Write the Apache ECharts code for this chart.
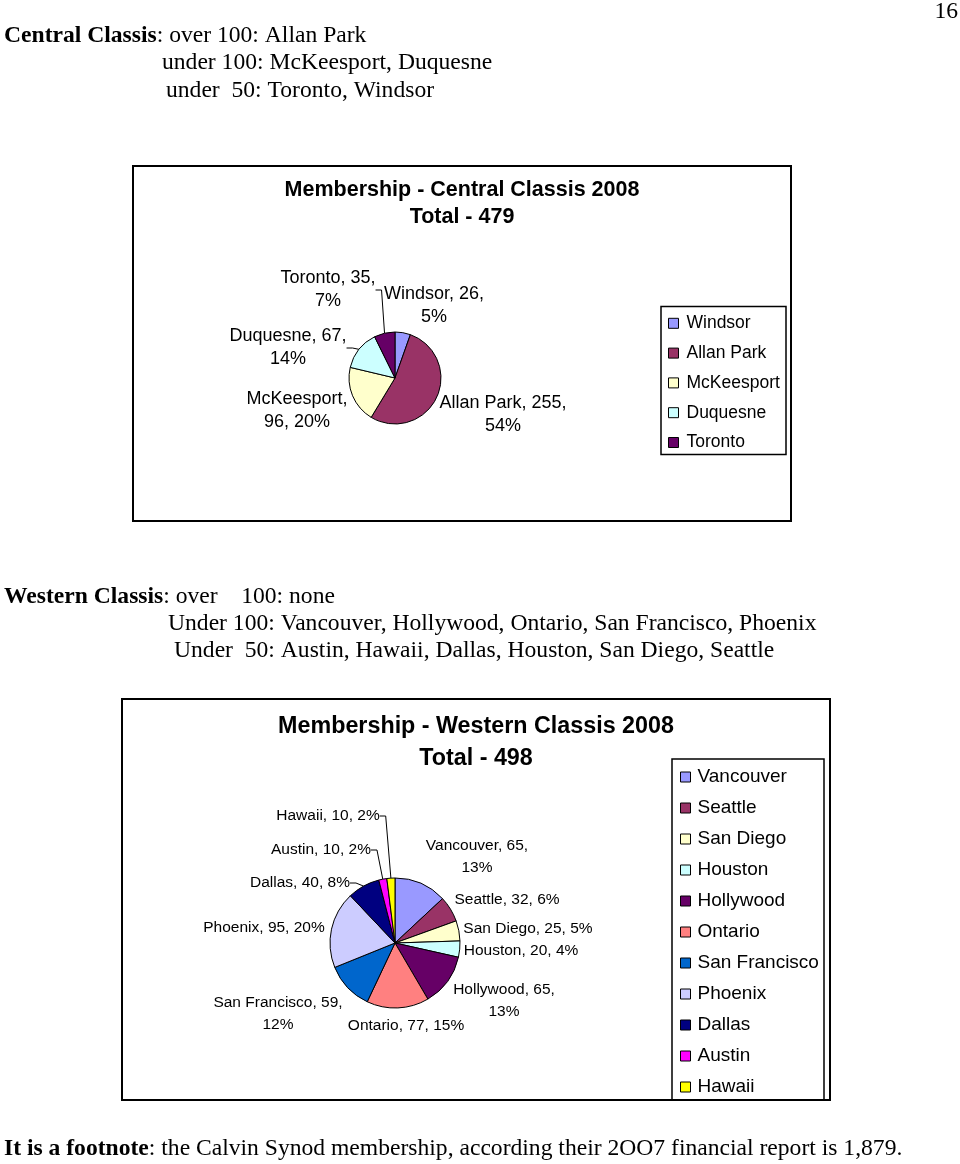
<!DOCTYPE html>
<html>
<head>
<meta charset="utf-8">
<script src="https://cdn.jsdelivr.net/npm/echarts@6/dist/echarts.min.js"></script>
<style>
  html, body { margin: 0; padding: 0; background: #ffffff; }
  #page { width: 960px; height: 1164px; }
</style>
</head>
<body>
<div id="page"></div>
<script>
// ---- Data ----
const centralNames    = ['Windsor', 'Allan Park', 'McKeesport', 'Duquesne', 'Toronto'];
const centralValues   = [26, 255, 96, 67, 35];
const centralPercents = [5, 54, 20, 14, 7];
const centralTotal    = 479;

const westernNames    = ['Vancouver', 'Seattle', 'San Diego', 'Houston', 'Hollywood', 'Ontario',
                         'San Francisco', 'Phoenix', 'Dallas', 'Austin', 'Hawaii'];
const westernValues   = [65, 32, 25, 20, 65, 77, 59, 95, 40, 10, 10];
const westernPercents = [13, 6, 5, 4, 13, 15, 12, 20, 8, 2, 2];
const westernTotal    = 498;

// ---- Styles / layout (kept apart from the data) ----
const centralColors = ['#9999FF', '#993366', '#FFFFCC', '#CCFFFF', '#660066'];
const westernColors = ['#9999FF', '#993366', '#FFFFCC', '#CCFFFF', '#660066', '#FF8080',
                       '#0066CC', '#CCCCFF', '#000080', '#FF00FF', '#FFFF00'];

// label centre positions and where the text wraps (brk = number of parts on line 1)
const centralLabelLayout = {
  'Windsor':    { x: 434, y: 306, brk: 2 },
  'Allan Park': { x: 503, y: 415, brk: 2 },
  'McKeesport': { x: 297, y: 411, brk: 1 },
  'Duquesne':   { x: 288, y: 348, brk: 2 },
  'Toronto':    { x: 328, y: 290, brk: 2 }
};
const westernLabelLayout = {
  'Vancouver':     { x: 477, y: 857, brk: 2 },
  'Seattle':       { x: 507, y: 900, brk: 0 },
  'San Diego':     { x: 528, y: 929, brk: 0 },
  'Houston':       { x: 521, y: 951, brk: 0 },
  'Hollywood':     { x: 504, y: 1001, brk: 2 },
  'Ontario':       { x: 406, y: 1026, brk: 0 },
  'San Francisco': { x: 278, y: 1014, brk: 2 },
  'Phoenix':       { x: 264, y: 928, brk: 0 },
  'Dallas':        { x: 300, y: 883, brk: 0 },
  'Austin':        { x: 321, y: 850, brk: 0 },
  'Hawaii':        { x: 328, y: 816, brk: 0 }
};
const centralLeaderLines = ['Toronto', 'Duquesne'];
const westernLeaderLines = ['Hawaii', 'Austin', 'Dallas'];

const SERIF = "'Liberation Serif', 'Times New Roman', serif";
const SANS  = "'Liberation Sans', Arial, sans-serif";
const BODY_SIZE = 23.6;

function buildData(names, values, colors, leaders) {
  return names.map((n, i) => ({
    name: n,
    value: values[i],
    itemStyle: { color: colors[i] },
    labelLine: { show: leaders.indexOf(n) >= 0 }
  }));
}
function makeFormatter(names, percents, layout) {
  return function (p) {
    const parts = [names[p.dataIndex] + ',', p.value + ',', percents[p.dataIndex] + '%'];
    const brk = layout[names[p.dataIndex]].brk;
    if (!brk) return parts.join(' ');
    return parts.slice(0, brk).join(' ') + '\n' + parts.slice(brk).join(' ');
  };
}
function makeLabelLayout(names, layout) {
  return function (params) {
    const p = layout[names[params.dataIndex]];
    return { x: p.x, y: p.y, align: 'center', verticalAlign: 'middle' };
  };
}

const chart = echarts.init(document.getElementById('page'), null, { renderer: 'canvas', width: 960, height: 1164 });

function bodyText(text, x, y, align) {
  return {
    type: 'text',
    style: {
      text: text, x: x, y: y,
      fontFamily: SERIF, fontSize: BODY_SIZE, fill: '#000',
      verticalAlign: 'middle', align: align || 'left',
      rich: { b: { fontFamily: SERIF, fontSize: BODY_SIZE, fontWeight: 'bold', fill: '#000' } }
    }
  };
}

const option = {
  backgroundColor: '#ffffff',
  animation: false,
  title: [
    {
      text: 'Membership - Central Classis 2008\nTotal - ' + centralTotal,
      left: 462, top: 177, padding: 0, textAlign: 'center',
      textStyle: { fontFamily: SANS, fontSize: 21.5, fontWeight: 'bold', color: '#000', lineHeight: 27 }
    },
    {
      text: 'Membership - Western Classis 2008\nTotal - ' + westernTotal,
      left: 476, top: 711, padding: 0, textAlign: 'center',
      textStyle: { fontFamily: SANS, fontSize: 23.3, fontWeight: 'bold', color: '#000', lineHeight: 32 }
    }
  ],
  legend: [
    {
      data: centralNames, orient: 'vertical', left: 668, top: 314.3, padding: 0,
      icon: 'rect', itemWidth: 10, itemHeight: 10, itemGap: 11.8, selectedMode: false,
      itemStyle: { borderColor: '#000', borderWidth: 1 },
      textStyle: { fontFamily: SANS, fontSize: 17.5, lineHeight: 17.5, color: '#000', padding: [0, 0, 0, 3] }
    },
    {
      data: westernNames, orient: 'vertical', left: 680, top: 767.5, padding: 0,
      icon: 'rect', itemWidth: 10, itemHeight: 10, itemGap: 12, selectedMode: false,
      itemStyle: { borderColor: '#000', borderWidth: 1 },
      textStyle: { fontFamily: SANS, fontSize: 19, lineHeight: 19, color: '#000', padding: [0, 0, 0, 2] }
    }
  ],
  graphic: [
    // page text
    bodyText('16', 958, 12, 'right'),
    bodyText('{b|Central Classis}: over 100: Allan Park', 4, 36),
    bodyText('under 100: McKeesport, Duquesne', 162, 63),
    bodyText('under  50: Toronto, Windsor', 166, 91),
    bodyText('{b|Western Classis}: over    100: none', 4, 597),
    bodyText('Under 100: Vancouver, Hollywood, Ontario, San Francisco, Phoenix', 168, 624),
    bodyText('Under  50: Austin, Hawaii, Dallas, Houston, San Diego, Seattle', 174, 651),
    bodyText('{b|It is a footnote}: the Calvin Synod membership, according their 2OO7 financial report is 1,879.', 4, 1149),
    // chart frames
    { type: 'rect', z: -1, shape: { x: 133, y: 166, width: 658, height: 355 },
      style: { fill: '#fff', stroke: '#000', lineWidth: 2 } },
    { type: 'rect', z: -1, shape: { x: 661, y: 306.5, width: 125, height: 148 },
      style: { fill: 'none', stroke: '#000', lineWidth: 1.5 } },
    { type: 'rect', z: -1, shape: { x: 122, y: 699, width: 708, height: 401 },
      style: { fill: '#fff', stroke: '#000', lineWidth: 2 } },
    { type: 'rect', z: -1, shape: { x: 672, y: 759, width: 152, height: 341 },
      style: { fill: 'none', stroke: '#000', lineWidth: 1.5 } }
  ],
  series: [
    {
      type: 'pie',
      center: [395, 378],
      radius: 46,
      startAngle: 90,
      clockwise: true,
      avoidLabelOverlap: false,
      data: buildData(centralNames, centralValues, centralColors, centralLeaderLines),
      itemStyle: { borderColor: '#000', borderWidth: 1 },
      emphasis: { disabled: true },
      label: {
        show: true, position: 'outside',
        fontFamily: SANS, fontSize: 18, lineHeight: 23, color: '#000',
        formatter: makeFormatter(centralNames, centralPercents, centralLabelLayout)
      },
      labelLine: { length: 4, length2: 6, lineStyle: { color: '#000', width: 1 } },
      labelLayout: makeLabelLayout(centralNames, centralLabelLayout)
    },
    {
      type: 'pie',
      center: [395, 943],
      radius: 65,
      startAngle: 90,
      clockwise: true,
      avoidLabelOverlap: false,
      data: buildData(westernNames, westernValues, westernColors, westernLeaderLines),
      itemStyle: { borderColor: '#000', borderWidth: 1 },
      emphasis: { disabled: true },
      label: {
        show: true, position: 'outside',
        fontFamily: SANS, fontSize: 15.5, lineHeight: 22, color: '#000',
        formatter: makeFormatter(westernNames, westernPercents, westernLabelLayout)
      },
      labelLine: { length: 4, length2: 6, lineStyle: { color: '#000', width: 1 } },
      labelLayout: makeLabelLayout(westernNames, westernLabelLayout)
    }
  ]
};
chart.setOption(option);
</script>
</body>
</html>
